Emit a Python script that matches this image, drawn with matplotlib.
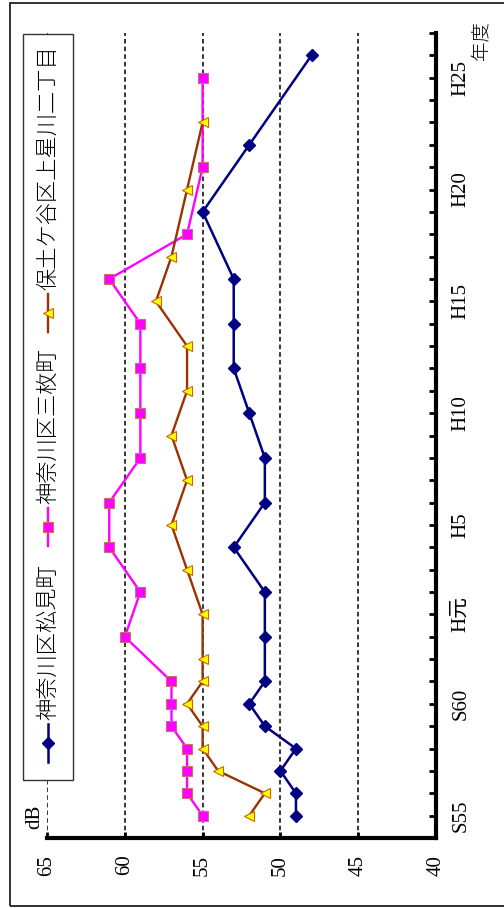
import matplotlib

matplotlib.use("Agg")

import matplotlib.pyplot as plt
from matplotlib.lines import Line2D
from matplotlib.patches import Rectangle

# fiscal years (western calendar) and measured levels in dB
matsumi_years = [1980, 1981, 1982, 1983, 1984, 1985, 1986, 1988, 1990, 1992,
                 1994, 1996, 1998, 2000, 2002, 2004, 2007, 2010, 2014]
matsumi_db = [49, 49, 50, 49, 51, 52, 51, 51, 51, 53,
              51, 51, 52, 53, 53, 53, 55, 52, 48]

sanmai_years = [1980, 1981, 1982, 1983, 1984, 1985, 1986, 1988, 1990, 1992,
                1994, 1996, 1998, 2000, 2002, 2004, 2006, 2009, 2013]
sanmai_db = [55, 56, 56, 56, 57, 57, 57, 60, 59, 61,
             61, 59, 59, 59, 59, 61, 56, 55, 55]

hodogaya_years = [1980, 1981, 1982, 1983, 1984, 1985, 1986, 1987, 1989, 1991,
                  1993, 1995, 1997, 1999, 2001, 2003, 2005, 2008, 2011]
hodogaya_db = [52, 51, 54, 55, 55, 56, 55, 55, 55, 56,
               57, 56, 57, 56, 56, 58, 57, 56, 55]

series_names = ["神奈川区松見町", "神奈川区三枚町", "保土ケ谷区上星川二丁目"]

year_ticks = [1980, 1985, 1989, 1993, 1998, 2003, 2008, 2013]
year_labels = ["S55", "S60", "H元", "H5", "H10", "H15", "H20", "H25"]
db_ticks = [65, 60, 55, 50, 45, 40]

SERIF = ["Liberation Serif", "Noto Sans CJK JP"]
JP = ["Noto Sans CJK JP", "DejaVu Sans"]

W, H = 504, 908
fig = plt.figure(figsize=(W / 100, H / 100), dpi=100)


def px(x0, y0, x1, y1):
    # pixel box (top-left origin) -> figure fraction [left, bottom, width, height]
    return [x0 / W, 1 - y1 / H, (x1 - x0) / W, (y1 - y0) / H]


ax = fig.add_axes(px(47, 33, 436, 838))

styles = [
    dict(color="#000080", marker="D", ms=6.2, mfc="#000080", mec="#000080", lw=1.8),
    dict(color="#FF00FF", marker="s", ms=7, mfc="#FF00FF", mec="#C87070", mew=0.8, lw=1.7),
    dict(color="#993300", marker="<", ms=7.5, mfc="#FFFF00", mec="#CC6600", mew=0.8, lw=1.7),
]
series = [(matsumi_db, matsumi_years), (sanmai_db, sanmai_years),
          (hodogaya_db, hodogaya_years)]
for (vals, yrs), st in zip(series, styles):
    ax.plot(vals, yrs, zorder=3, clip_on=False, **st)

ax.set_xlim(65, 40)
ax.set_ylim(1979, 2015)

ax.set_xticks(db_ticks)
ax.set_xticklabels([str(v) for v in db_ticks], rotation=90, family=SERIF, fontsize=15)
ax.tick_params(axis="x", direction="in", length=4, width=2, pad=12)

ax.yaxis.tick_right()
ax.set_yticks(year_ticks)
ax.set_yticklabels(year_labels, rotation=90, va="center", family=SERIF, fontsize=15)
ax.set_yticks(range(1979, 2016), minor=True)
ax.tick_params(axis="y", which="both", direction="in", length=5, width=2, pad=11)

for v in [65, 60, 55, 50, 45]:
    ax.axvline(v, color="black", lw=1.1, ls=(0, (3, 2)), zorder=1)

for side in ["left", "top"]:
    ax.spines[side].set_visible(False)
for side in ["right", "bottom"]:
    ax.spines[side].set_linewidth(3)
    ax.spines[side].set_capstyle("projecting")

fig.text(34.5 / W, 1 - 817 / H, "dB", rotation=90, ha="center", va="center",
         family=SERIF, fontsize=15)
fig.text(482 / W, 1 - 41 / H, "年度", rotation=90, ha="center", va="center",
         family=JP, fontsize=14, fontweight="light")

# outer frame (runs past the right edge)
fig.patches.append(Rectangle((10 / W, 1 - 906 / H), 1.0, (906 - 3) / H,
                             transform=fig.transFigure, fill=False,
                             edgecolor="#222222", lw=1.3, zorder=5))

# legend box, drawn by hand because the entries run vertically
fig.patches.append(Rectangle((23 / W, 1 - 780 / H), 50 / W, (780 - 34) / H,
                             transform=fig.transFigure, facecolor="white",
                             edgecolor="#333333", lw=1.0, zorder=6))
legend_y = [743, 527, 313]
for yc, name, st in zip(legend_y, series_names, styles):
    fy = 1 - yc / H
    half = 19 / H
    fig.add_artist(Line2D([48 / W] * 3, [fy - half, fy, fy + half],
                          transform=fig.transFigure, zorder=7,
                          markevery=[1], **st))
    fig.text(48 / W, fy + 23 / H, name, rotation=90, ha="center", va="bottom",
             family=JP, fontsize=16, fontweight="light", zorder=8)

fig.savefig("out.png", dpi=100)
